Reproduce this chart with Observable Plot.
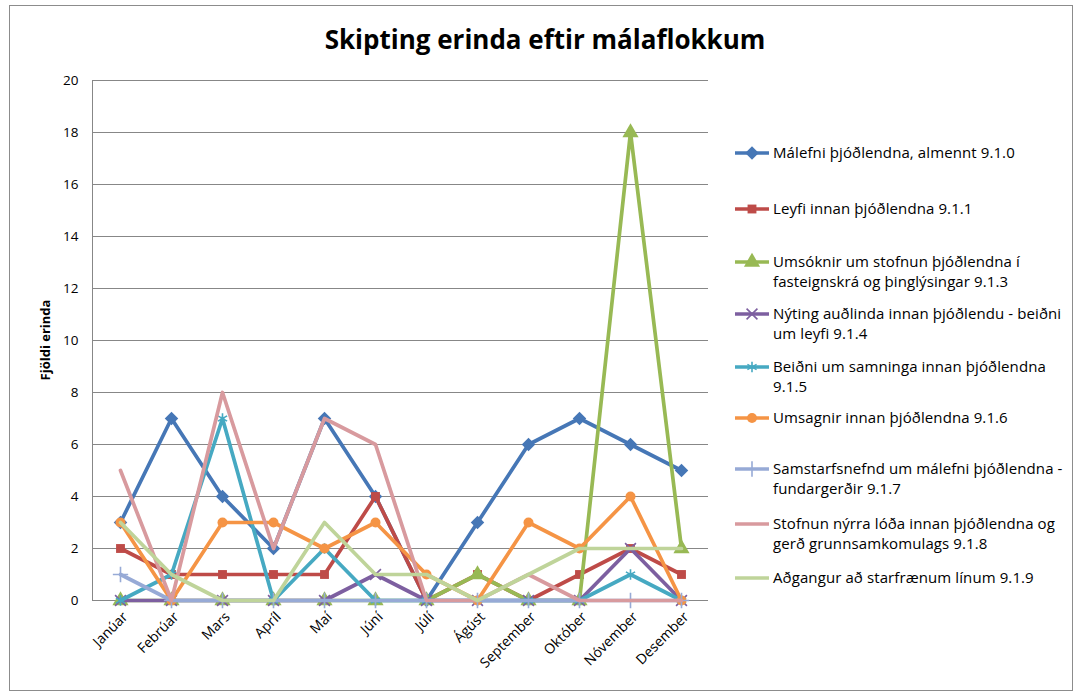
<!DOCTYPE html>
<html><head><meta charset="utf-8">
<script src="https://cdn.jsdelivr.net/npm/d3@7"></script>
<script src="https://cdn.jsdelivr.net/npm/@observablehq/plot@0.6"></script>
<style>
body{margin:0;background:#fff;}
#wrap{position:relative;width:1074px;height:692px;font-family:"Open Sans",sans-serif;color:#000;overflow:hidden;}
#wrap svg.plot{position:absolute;left:0;top:0;}
#frame{position:absolute;left:9px;top:5px;width:1062px;height:684px;border:1px solid #8c8c8c;pointer-events:none;}
#title{position:absolute;left:0;width:1090px;top:21px;text-align:center;font-weight:bold;font-size:26px;}
#ylabel{position:absolute;left:45px;top:340px;transform:translate(-50%,-50%) rotate(-90deg);font-weight:bold;font-size:13px;white-space:nowrap;}
.leg{position:absolute;left:733px;font-size:15px;line-height:19.5px;}
.leg svg{position:absolute;left:0;top:0;}
.leg .t{position:absolute;left:40px;top:0;white-space:nowrap;letter-spacing:0.1px;}
</style>
</head><body>
<div id="wrap">
  <div id="frame"></div>
  <div id="title">Skipting erinda eftir málaflokkum</div>
  <div id="ylabel">Fjöldi erinda</div>
</div>
<script>
const months = ["Janúar","Febrúar","Mars","Apríl","Maí","Júní","Júlí","Ágúst","September","Október","Nóvember","Desember"];
const seriesNames = [
  "Málefni þjóðlendna, almennt 9.1.0",
  "Leyfi innan þjóðlendna 9.1.1",
  "Umsóknir um stofnun þjóðlendna í fasteignskrá og þinglýsingar 9.1.3",
  "Nýting auðlinda innan þjóðlendu - beiðni um leyfi 9.1.4",
  "Beiðni um samninga innan þjóðlendna 9.1.5",
  "Umsagnir innan þjóðlendna 9.1.6",
  "Samstarfsnefnd um málefni þjóðlendna - fundargerðir 9.1.7",
  "Stofnun nýrra lóða innan þjóðlendna og gerð grunnsamkomulags 9.1.8",
  "Aðgangur að starfrænum línum 9.1.9"
];
const legendLines = [
  ["Málefni þjóðlendna, almennt 9.1.0"],
  ["Leyfi innan þjóðlendna 9.1.1"],
  ["Umsóknir um stofnun þjóðlendna í","fasteignskrá og þinglýsingar 9.1.3"],
  ["Nýting auðlinda innan þjóðlendu - beiðni","um leyfi 9.1.4"],
  ["Beiðni um samninga innan þjóðlendna","9.1.5"],
  ["Umsagnir innan þjóðlendna 9.1.6"],
  ["Samstarfsnefnd um málefni þjóðlendna -","fundargerðir 9.1.7"],
  ["Stofnun nýrra lóða innan þjóðlendna og","gerð grunnsamkomulags 9.1.8"],
  ["Aðgangur að starfrænum línum 9.1.9"]
];
const s910 = [3,7,4,2,7,4,0,3,6,7,6,5];
const s911 = [2,1,1,1,1,4,0,1,0,1,2,1];
const s913 = [0,0,0,0,0,0,0,1,0,0,18,2];
const s914 = [0,0,0,0,0,1,0,0,0,0,2,0];
const s915 = [0,1,7,0,2,0,0,0,0,0,1,0];
const s916 = [3,0,3,3,2,3,1,0,3,2,4,0];
const s917 = [1,0,0,0,0,0,0,0,0,0,0,0];
const s918 = [5,0,8,2,7,6,0,0,1,0,0,0];
const s919 = [3,1,0,0,3,1,1,0,1,2,2,2];
const seriesValues = [s910,s911,s913,s914,s915,s916,s917,s918,s919];
const yTicks = [0,2,4,6,8,10,12,14,16,18,20];

const colors = ["#4677B6","#BE4B48","#98B954","#7D5FA0","#46A9C2","#F59445","#97AAD6","#D89A9E","#BFD49A"];
const symbols = ["square","square","triangle","times","asterisk","circle","plus",null,null];
const rotates = [45,0,0,0,0,0,0,0,0];
const sizes = [5.4,5,6,5,5,5,5,0,0];
const filled = [true,true,true,false,false,true,false,false,false];
const legendY = [153,209,262,314,367,418,469,524,578];

const rows = seriesNames.flatMap((name,i)=>seriesValues[i].map((v,j)=>({series:name,idx:i,month:months[j],value:v})));

const marks = [
  Plot.gridY(yTicks,{stroke:"#878787",strokeOpacity:1}),
  Plot.frame({anchor:"left",stroke:"#878787"}),
  Plot.axisY(yTicks,{tickSize:0,tickPadding:14,label:null,fontSize:13.5}),
  Plot.axisX({tickRotate:-45,tickSize:0,tickPadding:14,dx:5,label:null,fontSize:14})
];
seriesNames.forEach((name,i)=>{
  const d = rows.filter(r=>r.idx===i);
  marks.push(Plot.line(d,{x:"month",y:"value",stroke:colors[i],strokeWidth:3.7}));
  if (symbols[i]) {
    const opt = {x:"month",y:"value",symbol:symbols[i],r:sizes[i],rotate:rotates[i]};
    if (filled[i]) { opt.fill = colors[i]; opt.stroke = "none"; }
    else { opt.stroke = colors[i]; opt.strokeWidth = 1.6; opt.fill = "none"; }
    marks.push(Plot.dot(d,opt));
  }
});

const chart = Plot.plot({
  width:1074, height:692,
  marginLeft:92, marginRight:366, marginTop:80, marginBottom:92,
  style:{fontFamily:"Open Sans, sans-serif",fontSize:"13px",color:"#000",background:"transparent"},
  x:{type:"point",domain:months,padding:0.5,label:null},
  y:{domain:[0,20],label:null},
  marks
});
chart.classList.add("plot");
const wrap = document.getElementById("wrap");
wrap.insertBefore(chart, wrap.firstChild);

// legend
legendLines.forEach((lines,i)=>{
  const div = document.createElement("div");
  div.className = "leg";
  div.style.top = (legendY[i]-9.75)+"px";
  const svg = d3.create("svg").attr("width",38).attr("height",20);
  svg.append("line").attr("x1",2).attr("x2",36).attr("y1",10).attr("y2",10).attr("stroke",colors[i]).attr("stroke-width",3.7);
  if (symbols[i]) {
    const symMap = {square:d3.symbolSquare,triangle:d3.symbolTriangle,times:d3.symbolTimes,asterisk:d3.symbolAsterisk,circle:d3.symbolCircle,plus:d3.symbolPlus};
    const p = svg.append("path").attr("d",d3.symbol(symMap[symbols[i]], Math.PI*sizes[i]*sizes[i])()).attr("transform",`translate(19,10) rotate(${rotates[i]})`);
    if (filled[i]) p.attr("fill",colors[i]); else p.attr("fill","none").attr("stroke",colors[i]).attr("stroke-width",1.6);
  }
  div.appendChild(svg.node());
  const t = document.createElement("div");
  t.className = "t";
  t.innerHTML = lines.join("<br>");
  div.appendChild(t);
  wrap.appendChild(div);
});
</script>
</body></html>
